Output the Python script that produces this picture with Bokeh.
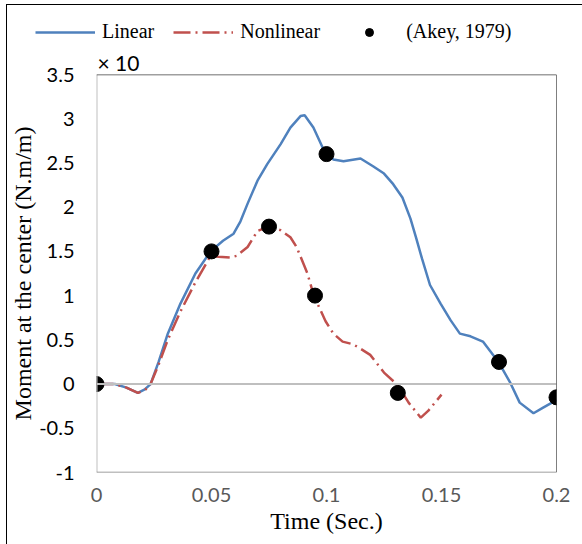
from bokeh.plotting import figure
from bokeh.layouts import column
from bokeh.models import (Range1d, Span, Legend, LegendItem, FixedTicker, Title,
                          CustomJSTickFormatter)
from bokeh.embed import file_html
from bokeh.resources import INLINE

# ---- data ----
lin_t = [0, 0.008, 0.013, 0.018, 0.021, 0.0235, 0.027, 0.031, 0.0365, 0.043, 0.0496,
         0.055, 0.0596, 0.0626, 0.0657, 0.07, 0.0743, 0.08, 0.0843, 0.0887, 0.0905,
         0.0943, 0.0996, 0.103, 0.1074, 0.1148, 0.1204, 0.125, 0.129, 0.133, 0.1365,
         0.139, 0.1415, 0.145, 0.1496, 0.154, 0.158, 0.1626, 0.168, 0.175, 0.18, 0.184,
         0.19, 0.194, 0.2]
lin_y = [0, 0, -0.04, -0.1, -0.06, 0, 0.25, 0.57, 0.91, 1.25, 1.5,
         1.62, 1.7, 1.84, 2.04, 2.3, 2.49, 2.71, 2.9, 3.03, 3.04,
         2.9, 2.6, 2.54, 2.52, 2.55, 2.46, 2.38, 2.26, 2.11, 1.87,
         1.65, 1.42, 1.12, 0.91, 0.72, 0.57, 0.54, 0.48, 0.24, 0.01, -0.21,
         -0.33, -0.27, -0.18]

non_t = [0, 0.008, 0.013, 0.018, 0.021, 0.0235, 0.027, 0.031, 0.0365, 0.043, 0.0496,
         0.053, 0.058, 0.061, 0.0657, 0.07, 0.0748, 0.08, 0.0843, 0.087, 0.0917, 0.0945,
         0.0996, 0.103, 0.107, 0.1115, 0.1148, 0.119, 0.125, 0.1309, 0.1357, 0.141,
         0.1443, 0.15]
non_y = [0, 0, -0.04, -0.1, -0.07, 0, 0.22, 0.5, 0.82, 1.15, 1.45,
         1.44, 1.43, 1.45, 1.55, 1.73, 1.78, 1.74, 1.66, 1.55, 1.25, 1.0,
         0.71, 0.57, 0.48, 0.45, 0.4, 0.33, 0.13, -0.01, -0.21, -0.38,
         -0.3, -0.12]

akey_t = [0, 0.05, 0.075, 0.095, 0.1, 0.131, 0.175, 0.2]
akey_y = [0, 1.5, 1.78, 1.0, 2.6, -0.1, 0.25, -0.15]

x_ticks = [0, 0.05, 0.1, 0.15, 0.2]
y_ticks = [-1, -0.5, 0, 0.5, 1, 1.5, 2, 2.5, 3, 3.5]

series_names = ["Linear", "Nonlinear", "(Akey, 1979)"]
scale_text = "× 10"

BLUE = "#4F81BD"
RED = "#C0504D"
SERIF = "Liberation Serif"
SANS = "Lato"
DASH = "17 5 2 5"


def draw_series(fig, visible=True):
    a = fig.line(lin_t, lin_y, line_color=BLUE, line_width=2.5, visible=visible)
    b = fig.line(non_t, non_y, line_color=RED, line_width=2.5, line_dash=DASH, visible=visible)
    c = fig.scatter(akey_t, akey_y, size=15, color="black", visible=visible)
    return a, b, c


# ---- main chart ----
p = figure(width=575, height=497, output_backend="svg", toolbar_location=None,
           x_range=Range1d(0, 0.2), y_range=Range1d(-1, 3.5),
           min_border_left=89, min_border_right=26, min_border_top=25, min_border_bottom=72)
p.frame_align = False
p.outline_line_color = None
p.grid.visible = False
p.title = Title(text=scale_text, align="left", offset=1, standoff=0,
                text_font=SANS, text_font_size="21px", text_font_style="normal",
                text_color="black")

fmt = CustomJSTickFormatter(code="return tick.toFixed(2).replace(/\\.?0+$/, '');")
p.xaxis.ticker = FixedTicker(ticks=x_ticks)
p.yaxis.ticker = FixedTicker(ticks=y_ticks)
p.xaxis.formatter = fmt
p.yaxis.formatter = fmt
for ax in (p.xaxis, p.yaxis):
    ax.axis_line_color = None
    ax.major_tick_line_color = None
    ax.minor_tick_line_color = None
    ax.major_tick_out = 0
    ax.major_tick_in = 0
    ax.major_label_text_font = SANS
    ax.major_label_text_font_size = "20px"
    ax.axis_label_text_font = SERIF
    ax.axis_label_text_font_style = "normal"
    ax.axis_label_text_font_size = "24px"
    ax.axis_label_text_color = "black"
p.xaxis.major_label_text_color = "#595959"
p.yaxis.major_label_text_color = "black"
p.xaxis.major_label_standoff = 15
p.yaxis.major_label_standoff = 22
p.xaxis.axis_label = "Time (Sec.)"
p.yaxis.axis_label = "Moment at the center (N.m/m)"
p.xaxis.axis_label_standoff = 3
p.yaxis.axis_label_standoff = 0

# frame lines
p.add_layout(Span(location=0, dimension="height", line_color="#BFBFBF", line_width=2))
p.add_layout(Span(location=0, dimension="width", line_color="#BFBFBF", line_width=2))
p.add_layout(Span(location=-1, dimension="width", line_color="#808080", line_width=1.5))
p.add_layout(Span(location=0.2, dimension="height", line_color="black", line_width=1))
p.add_layout(Span(location=3.5, dimension="width", line_color="#404040", line_width=1.5))

draw_series(p)

# ---- header strip with legend ----
h = figure(width=575, height=42, output_backend="svg", toolbar_location=None, title=None,
           x_range=Range1d(0, 0.2), y_range=Range1d(-1, 3.5),
           min_border_left=0, min_border_right=0, min_border_top=0, min_border_bottom=0)
h.frame_align = False
h.axis.visible = False
h.grid.visible = False
h.outline_line_color = None
ra, rb, rc = draw_series(h, visible=False)

legend = Legend(items=[LegendItem(label=series_names[0], renderers=[ra]),
                       LegendItem(label=series_names[1], renderers=[rb]),
                       LegendItem(label=series_names[2], renderers=[rc])],
                orientation="horizontal", location=(28, 4),
                glyph_width=60, glyph_height=20, label_standoff=7, spacing=19,
                padding=0, margin=0, border_line_color=None, background_fill_alpha=0,
                inactive_fill_alpha=0, label_text_color="black",
                label_text_font=SERIF, label_text_font_size="20px")
h.add_layout(legend)

layout = column(h, p, spacing=0)
layout.styles = {"margin-left": "6px", "margin-top": "4px",
                 "border-left": "1px solid #000", "border-top": "1px solid #000"}

open("out.html", "w").write(file_html(layout, INLINE))
